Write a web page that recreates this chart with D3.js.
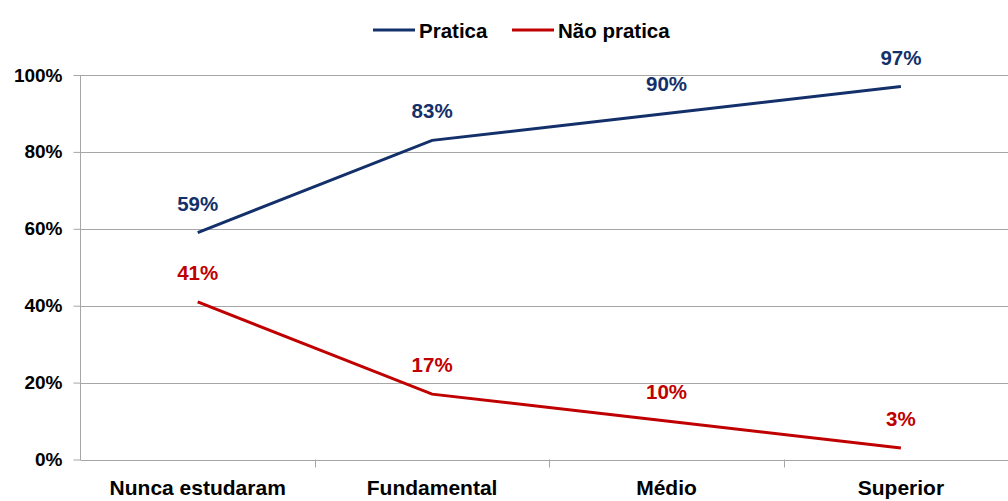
<!DOCTYPE html>
<meta charset="utf-8">
<style>
	body { margin: 0; background: #fff; }
	.chart text { font-family: "Liberation Sans", Arial, sans-serif; font-weight: bold; }
	.grid line { stroke: #a6a6a6; stroke-width: 1; }
	.axis path, .axis line { stroke: #a6a6a6; stroke-width: 1; }
</style>
<div class="chart"></div>
<script src="https://d3js.org/d3.v7.min.js"></script>
<script>

	// Data
	const categories = ["Nunca estudaram", "Fundamental", "Médio", "Superior"];
	const pratica = [59, 83, 90, 97];
	const naoPratica = [41, 17, 10, 3];
	const yTicks = [0, 20, 40, 60, 80, 100];
	const seriesNames = ["Pratica", "Não pratica"];
	const seriesColors = ["#13306a", "#c00000"];

	const series = [
		{ name: seriesNames[0], values: pratica, color: seriesColors[0] },
		{ name: seriesNames[1], values: naoPratica, color: seriesColors[1] }
	];

	// Dimensions
	const W = 1008, H = 501;
	const margin = { left: 80.5, top: 75, bottom: 41.5 };
	const bandW = 234.4;

	let x = d3.scaleBand().domain(categories)
		.range([margin.left, margin.left + bandW * categories.length]);
	let y = d3.scaleLinear().domain([0, 100]).range([H - margin.bottom, margin.top]);

	let svg = d3.select(".chart").append("svg")
		.attr("width", W)
		.attr("height", H);

	// Gridlines
	svg.append("g").attr("class", "grid")
		.selectAll("line")
		.data(yTicks.filter(d => d > 0))
		.join("line")
		.attr("x1", margin.left).attr("x2", W)
		.attr("y1", d => Math.round(y(d)) + 0.5)
		.attr("y2", d => Math.round(y(d)) + 0.5);

	// Y axis
	let yAxis = d3.axisLeft(y).tickValues(yTicks)
		.tickFormat(d => d + "%").tickSize(7).tickPadding(11);
	let gy = svg.append("g").attr("class", "axis")
		.attr("transform", "translate(" + margin.left + ",0)")
		.call(yAxis);
	gy.select(".domain").attr("d", "M0," + y(100) + "V" + (y(0) + 0.5));
	gy.selectAll("text").style("font-size", "19px").attr("fill", "#000");

	// X axis
	let xAxis = d3.axisBottom(x).tickSize(0).tickPadding(20);
	let gx = svg.append("g").attr("class", "axis")
		.attr("transform", "translate(0," + (Math.round(y(0)) + 0.5) + ")")
		.call(xAxis);
	gx.select(".domain").attr("d", "M" + margin.left + ",0H" + W);
	gx.selectAll("text").style("font-size", "21px").attr("fill", "#000");

	// Category separators
	svg.append("g").attr("class", "axis")
		.selectAll("line")
		.data(categories.slice(1))
		.join("line")
		.attr("x1", d => Math.round(x(d)) + 0.5)
		.attr("x2", d => Math.round(x(d)) + 0.5)
		.attr("y1", y(0))
		.attr("y2", y(0) + 8);

	// Lines
	let line = d3.line()
		.x((d, i) => x(categories[i]) + x.bandwidth() / 2)
		.y(d => y(d));

	series.forEach(s => {
		svg.append("path")
			.datum(s.values)
			.attr("fill", "none")
			.attr("stroke", s.color)
			.attr("stroke-width", 3)
			.attr("d", line);

		svg.append("g")
			.selectAll("text")
			.data(s.values)
			.join("text")
			.attr("x", (d, i) => x(categories[i]) + x.bandwidth() / 2)
			.attr("y", d => y(d) - 22)
			.attr("text-anchor", "middle")
			.attr("fill", s.color)
			.style("font-size", "20.5px")
			.text(d => d + "%");
	});

	// Legend
	let legend = svg.append("g");
	let legendX = [373, 512];
	series.forEach((s, i) => {
		legend.append("line")
			.attr("x1", legendX[i]).attr("x2", legendX[i] + 42)
			.attr("y1", 30).attr("y2", 30)
			.attr("stroke", s.color)
			.attr("stroke-width", 3);
		legend.append("text")
			.attr("x", legendX[i] + 46)
			.attr("y", 37.5)
			.attr("fill", "#000")
			.style("font-size", "20.5px")
			.text(s.name);
	});
</script>
